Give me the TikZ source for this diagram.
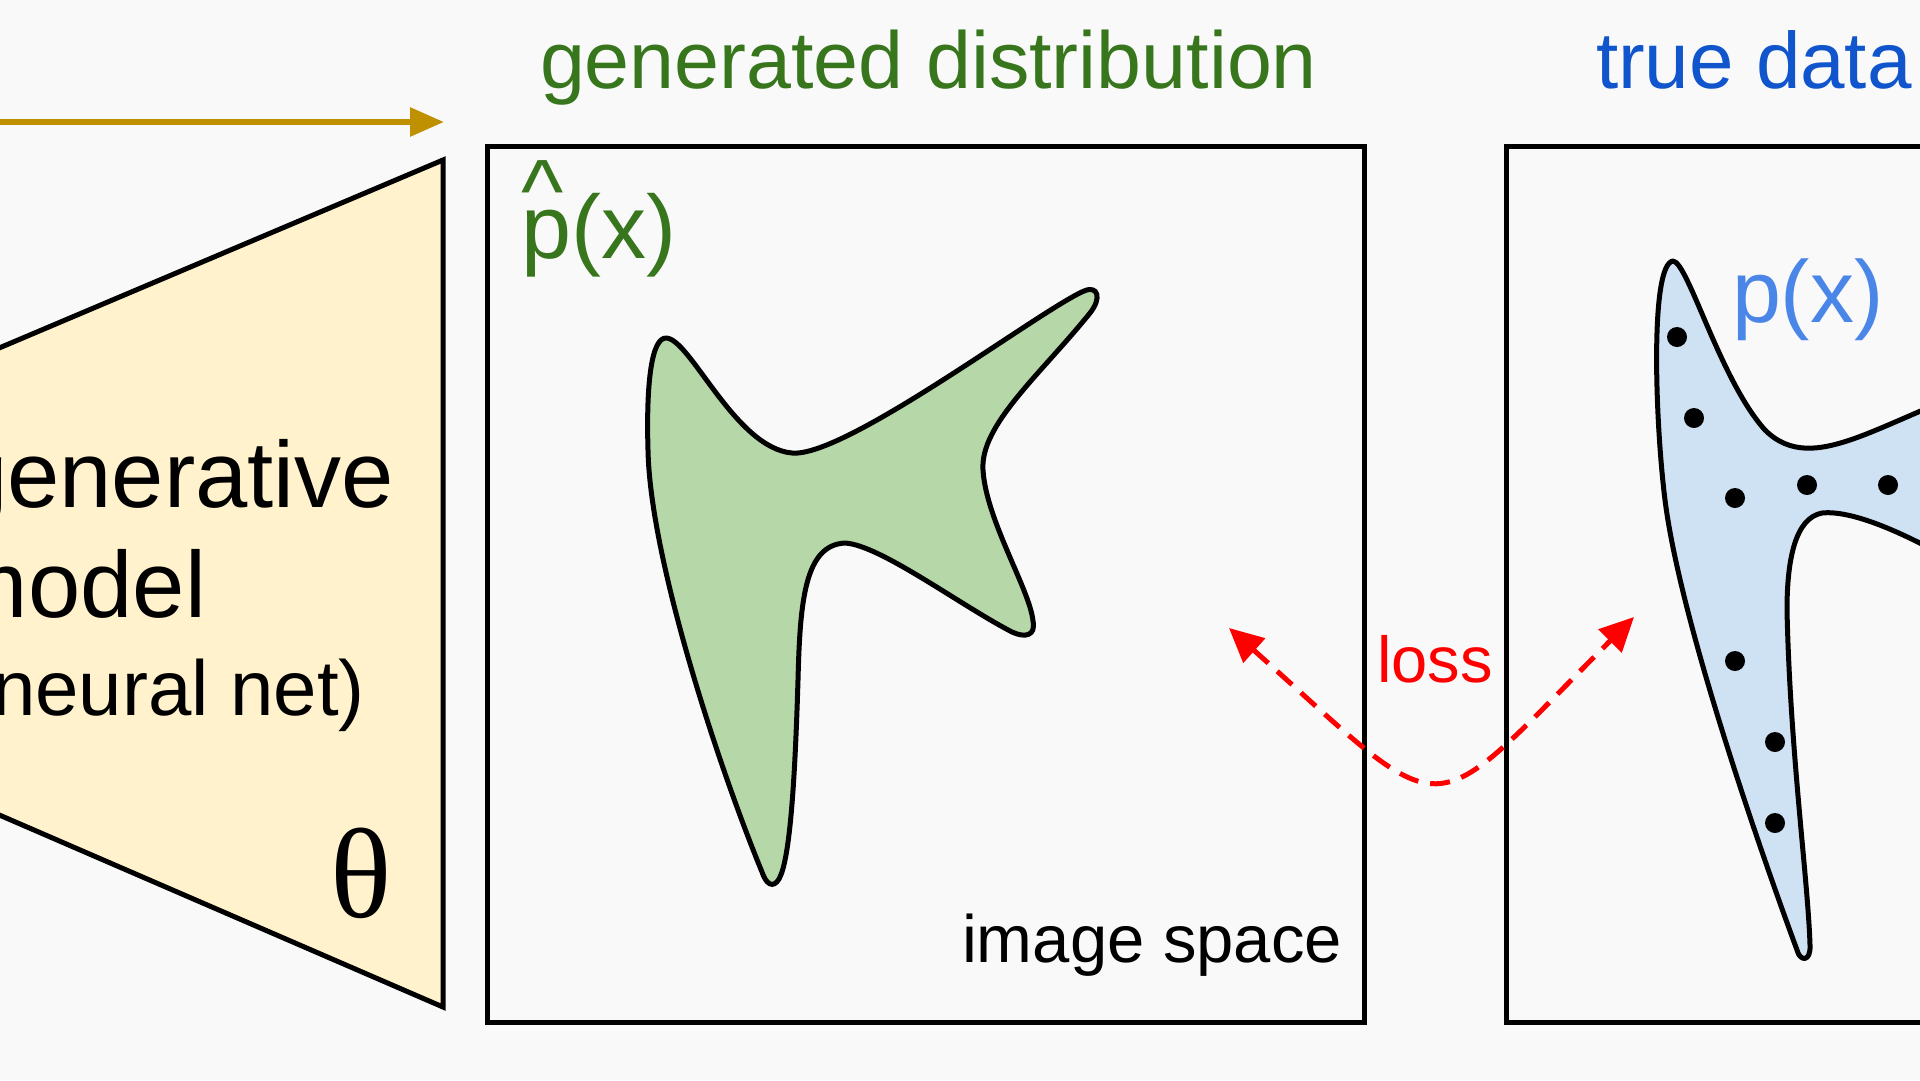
\documentclass[tikz,border=0pt]{standalone}
\usepackage{fontspec}
\setmainfont{Liberation Sans}
\newfontfamily\thetafont{Liberation Serif}
\usetikzlibrary{arrows.meta}
\definecolor{bgc}{HTML}{F9F9F9}
\definecolor{trapfill}{HTML}{FFF2CC}
\definecolor{gold}{HTML}{BF9000}
\definecolor{gfill}{HTML}{B6D7A8}
\definecolor{bfill}{HTML}{CFE2F3}
\definecolor{dgreen}{HTML}{38761D}
\definecolor{dblue}{HTML}{1155CC}
\definecolor{lblue}{HTML}{4A86E8}
\definecolor{lossred}{HTML}{FF0000}
\tikzset{
  txt/.style={inner sep=0pt, outer sep=0pt},
  panel/.style={draw=black, line width=5pt},
  blob/.style={draw=black, line width=5pt, line join=round},
  goldarrow/.style={draw=gold, line width=6pt, -{Triangle[length=34pt,width=28pt]}},
  lossarrow/.style={draw=lossred, line width=5pt, dash pattern=on 20pt off 12pt,
    {Triangle[length=34pt,width=32pt]}-{Triangle[length=34pt,width=32pt]}},
  datadot/.style={fill=black}
}
\begin{document}
\begin{tikzpicture}[x=1pt,y=-1pt]
\useasboundingbox (0,0) rectangle (1920,1080);
\clip (0,0) rectangle (1920,1080);
\fill[bgc] (0,0) rectangle (1920,1080);

% generator arrow
\coordinate (arrowstart) at (-20,122);
\coordinate (arrowend) at (444,122);
\draw[goldarrow] (arrowstart) -- (arrowend);

% generative model trapezoid
\filldraw[fill=trapfill, draw=black, line width=5pt, line join=miter]
  (443,160) -- (443,1007) -- (-100,772) -- (-100,390) -- cycle;
\node[txt, anchor=base east, font=\fontsize{94}{100}\selectfont] (gen) at (394,507) {generative};
\node[txt, anchor=base east, font=\fontsize{94}{100}\selectfont] (model) at (206,617) {model};
\node[txt, anchor=base east, font=\fontsize{78}{84}\selectfont] (nnet) at (365,715) {(neural net)};
\node[txt, anchor=center, font=\thetafont\fontsize{128}{130}\selectfont] (theta) at (361,873) {θ};

% titles
\node[txt, anchor=base west, text=dgreen, font=\fontsize{80.8}{86}\selectfont] (gtitle) at (540,88) {generated distribution};
\node[txt, anchor=base west, text=dblue, font=\fontsize{80}{86}\selectfont] (ttitle) at (1596,88) {true data};

% panels
\draw[panel] (487,146) rectangle (1364,1022);
\draw[panel] (1506,146) rectangle (1990,1022);

% generated blob
\filldraw[blob, fill=gfill]
  (666,338) .. controls (690,338) and (735,448) .. (792,453)
  .. controls (845,458) and (1040,310) .. (1084,291)
  .. controls (1098,285) and (1102,298) .. (1090,313)
  .. controls (1040,375) and (980,425) .. (983,470)
  .. controls (986,520) and (1030,590) .. (1033,621)
  .. controls (1036,636) and (1025,638) .. (1012,632)
  .. controls (960,605) and (880,545) .. (845,543)
  .. controls (805,545) and (800,600) .. (798,680)
  .. controls (795,780) and (790,860) .. (779,879)
  .. controls (773,889) and (766,884) .. (762,872)
  .. controls (720,770) and (650,560) .. (648,450)
  .. controls (646,380) and (652,338) .. (666,338) -- cycle;
\node[txt, anchor=base west, text=dgreen, font=\fontsize{90}{94}\selectfont] (phat) at (521,258)
  {\rlap{\raisebox{0.40em}{\textasciicircum}}p(x)};

% true data blob
\filldraw[blob, fill=bfill]
  (1673,261) .. controls (1688,262) and (1720,380) .. (1765,430)
  .. controls (1790,455) and (1820,450) .. (1850,440)
  .. controls (1880,430) and (1920,410) .. (1960,395)
  -- (2000,395) -- (2000,575) -- (1960,565)
  .. controls (1900,530) and (1850,510) .. (1822,513)
  .. controls (1795,518) and (1787,560) .. (1787,610)
  .. controls (1790,750) and (1808,880) .. (1810,945)
  .. controls (1811,962) and (1800,962) .. (1797,950)
  .. controls (1760,850) and (1680,620) .. (1665,500)
  .. controls (1655,420) and (1650,264) .. (1673,261) -- cycle;
\foreach \px/\py in {1677/337, 1694/418, 1735/498, 1807/485, 1888/485, 1735/661, 1775/742, 1775/823}
  \fill[datadot] (\px,\py) circle[radius=10pt];
\node[txt, anchor=base west, text=lblue, font=\fontsize{88}{92}\selectfont] (px) at (1732,322) {p(x)};

% labels
\node[txt, anchor=base east, font=\fontsize{67}{70}\selectfont] (imgspace) at (1342,962) {image space};
\node[txt, anchor=base west, text=lossred, font=\fontsize{65}{70}\selectfont] (loss) at (1377,682) {loss};

% loss arrow
\coordinate (lossL) at (1229,628);
\coordinate (lossR) at (1634,617);
\draw[lossarrow] (lossL) .. controls (1455,830) and (1421,830) .. (lossR);
\end{tikzpicture}
\end{document}
